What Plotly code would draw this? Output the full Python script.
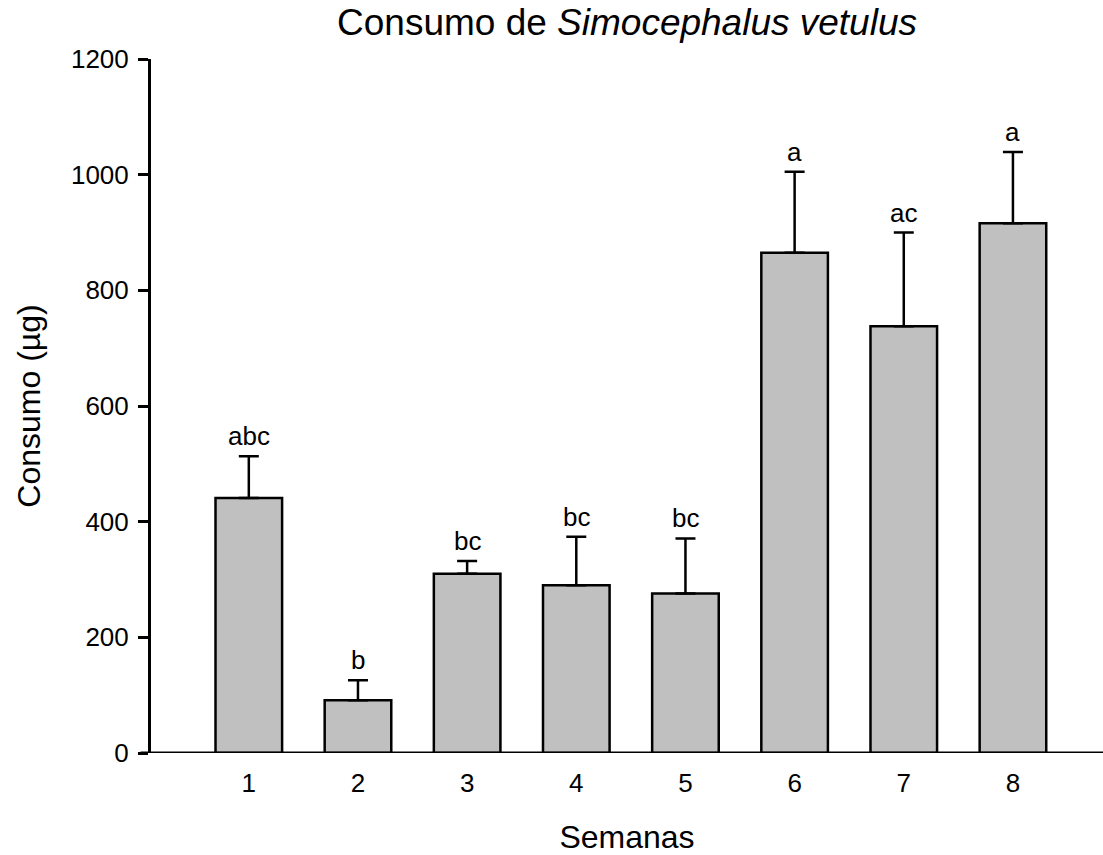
import plotly.graph_objects as go

semanas = ["1", "2", "3", "4", "5", "6", "7", "8"]
semana_pos = [1, 2, 3, 4, 5, 6, 7, 8]
consumo = [441, 91, 310, 290, 276, 865, 738, 916]
erro = [72, 35, 22, 84, 95, 140, 162, 123]
letras = ["abc", "b", "bc", "bc", "bc", "a", "ac", "a"]

FONT = "Liberation Sans, Arial, sans-serif"

fig = go.Figure()
fig.add_trace(go.Bar(
    x=semana_pos,
    y=consumo,
    width=0.61,
    marker=dict(color="#c0c0c0", line=dict(color="black", width=2.5)),
    error_y=dict(type="data", symmetric=False, array=erro,
                 arrayminus=[0] * len(erro), color="black",
                 thickness=2.5, width=10),
    showlegend=False,
))

for xp, m, e, txt in zip(semana_pos, consumo, erro, letras):
    fig.add_annotation(x=xp, y=m + e, text=txt, showarrow=False,
                       yanchor="bottom", yshift=3,
                       font=dict(family=FONT, size=26, color="black"))

# x axis line extends a little left of the y axis
fig.add_shape(type="line", xref="paper", yref="y",
              x0=-0.011, x1=1, y0=0, y1=0,
              line=dict(color="black", width=3))

fig.update_layout(
    width=1103, height=855,
    margin=dict(l=151, r=0, t=59, b=102),
    paper_bgcolor="white", plot_bgcolor="white",
    title=dict(text="Consumo de <i>Simocephalus vetulus</i>",
               x=0.5, xref="paper", y=0.974, yanchor="middle",
               font=dict(family=FONT, size=37, color="black")),
    font=dict(family=FONT, color="black"),
    bargap=0.39,
)
fig.update_xaxes(
    range=[0.104, 8.825], tickmode="array", tickvals=semana_pos,
    ticktext=semanas, showgrid=False, zeroline=False, showline=False,
    ticks="", tickfont=dict(size=26), ticklabelstandoff=12,
    title=dict(text="Semanas", font=dict(size=32), standoff=31),
)
fig.update_yaxes(
    range=[0, 1200], tickvals=[0, 200, 400, 600, 800, 1000, 1200],
    showgrid=False, zeroline=False, showline=True, linecolor="black",
    linewidth=3, ticks="outside", ticklen=10, tickwidth=3,
    tickcolor="black", tickfont=dict(size=26), ticklabelstandoff=4,
    title=dict(text="Consumo (µg)", font=dict(size=32), standoff=21),
)

fig.write_html("out.html")
